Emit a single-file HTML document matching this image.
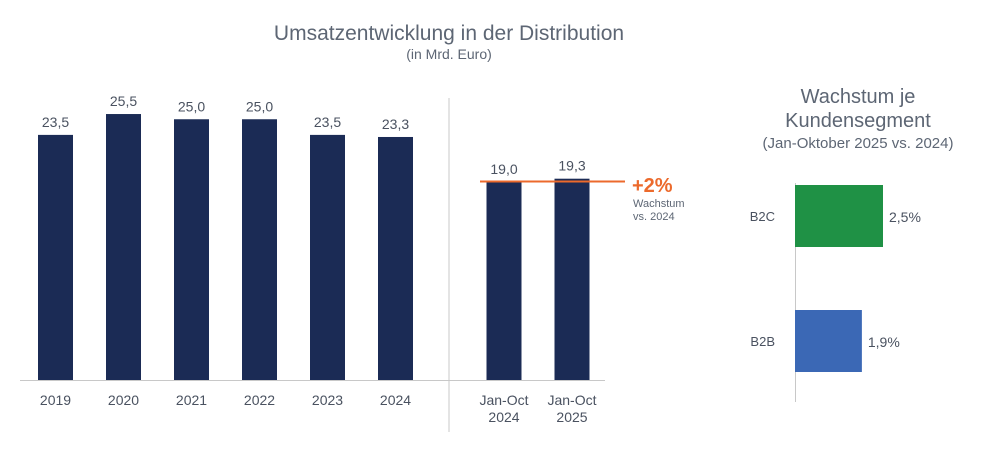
<!DOCTYPE html>
<html><head><meta charset="utf-8"><style>
body{margin:0;background:#fff;}
svg{display:block;font-family:"Liberation Sans",sans-serif;}
</style></head><body>
<svg id="c" width="987" height="459" viewBox="0 0 987 459">
<text x="449" y="40" text-anchor="middle" font-size="21" fill="#5d6674">Umsatzentwicklung in der Distribution</text>
<text x="449" y="59" text-anchor="middle" font-size="14" fill="#5d6674">(in Mrd. Euro)</text>
<line x1="449" y1="98" x2="449" y2="432" stroke="#c8c8c8" stroke-width="1"/>
<line x1="20" y1="380.5" x2="605" y2="380.5" stroke="#c8c8c8" stroke-width="1"/>
<g id="bars"></g>
<line x1="480" y1="181.5" x2="625" y2="181.5" stroke="#ec6a2c" stroke-width="2"/>
<text x="632" y="192" font-size="20" font-weight="bold" fill="#ec6a2c">+2%</text>
<text x="633" y="207" font-size="11" fill="#5d6674">Wachstum</text>
<text x="633" y="220" font-size="11" fill="#5d6674">vs. 2024</text>
<text x="858" y="103" text-anchor="middle" font-size="20" fill="#5d6674">Wachstum je</text>
<text x="858" y="127" text-anchor="middle" font-size="20" fill="#5d6674">Kundensegment</text>
<text x="858" y="148" text-anchor="middle" font-size="15" fill="#5d6674">(Jan-Oktober 2025 vs. 2024)</text>
<line x1="795.5" y1="183" x2="795.5" y2="402" stroke="#c8c8c8" stroke-width="1"/>
<g id="hbars"></g>
</svg>
<script>
const categories=["2019","2020","2021","2022","2023","2024","Jan-Oct|2024","Jan-Oct|2025"];
const values=[23.5,25.5,25.0,25.0,23.5,23.3,19.0,19.3];
const labels=["23,5","25,5","25,0","25,0","23,5","23,3","19,0","19,3"];
const segments=["B2C","B2B"];
const segValues=[2.5,1.9];
const segLabels=["2,5%","1,9%"];
const NS="http://www.w3.org/2000/svg";
function mk(t,a,p){const e=document.createElementNS(NS,t);for(const k in a)e.setAttribute(k,a[k]);p.appendChild(e);return e;}
const base=380, k=10.43;
const y=v=>base-v*k;
const xc=i=>i<6?55.5+i*68:504+(i-6)*68;
const g=document.getElementById('bars');
values.forEach((v,i)=>{
 const r=mk('rect',{x:xc(i)-17.5,y:y(v),width:35,height:base-y(v),fill:'#1b2b55'},g);
 
 
 const t=mk('text',{x:xc(i),y:y(v)-8,'text-anchor':'middle','font-size':14,fill:'#4a5260'},g);
 t.textContent=labels[i];
 
 
 categories[i].split('|').forEach((s,j)=>{
  const c=mk('text',{x:xc(i),y:405+j*17,'text-anchor':'middle','font-size':14,fill:'#4a5260'},g);
  c.textContent=s;
  
  
 });
});
const h=document.getElementById('hbars');
const hk=35.2, colors=['#1f9145','#3b68b5'];
segValues.forEach((v,i)=>{
 const yy=185+i*125;
 const r=mk('rect',{x:795,y:yy,width:v*hk,height:62,fill:colors[i]},h);
 
 
 const t=mk('text',{x:795+v*hk+6,y:yy+37,'font-size':14,fill:'#4a5260'},h);
 t.textContent=segLabels[i];
 
 
 const c=mk('text',{x:775,y:yy+36,'text-anchor':'end','font-size':13,fill:'#4a5260'},h);
 c.textContent=segments[i];
 
 
});
</script>
</body></html>
